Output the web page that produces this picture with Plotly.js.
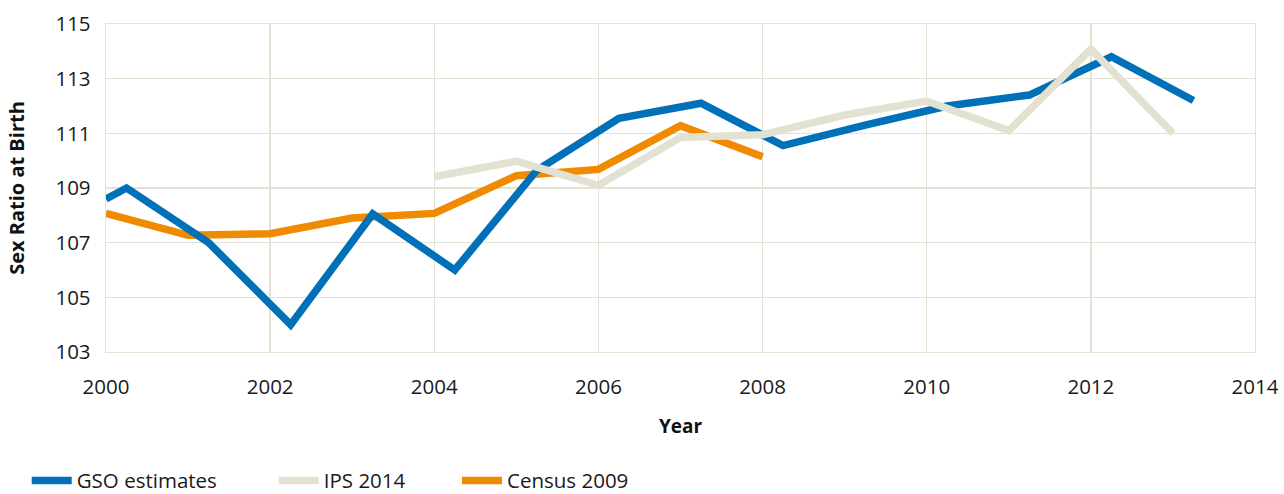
<!DOCTYPE html>
<html>
<head>
<meta charset="utf-8">
<script src="https://cdn.plot.ly/plotly-3.0.1.min.js"></script>
<style>
  html, body { margin: 0; padding: 0; background: #ffffff; }
  #chart { width: 1284px; height: 494px; }
</style>
</head>
<body>
<div id="chart"></div>
<script>
// GSO estimates (points plotted a quarter-year after the tick, as in the source)
const gsoYears = [2000, 2000.25, 2001.25, 2002.25, 2003.25, 2004.25, 2005.25, 2006.25, 2007.25, 2008.25, 2009.25, 2010.25, 2011.25, 2012.25, 2013.25];
const gsoValues = [108.6, 109.0, 107.0, 104.0, 108.05, 106.0, 109.65, 111.55, 112.1, 110.55, 111.3, 112.0, 112.4, 113.8, 112.2];

// IPS 2014
const ipsYears = [2004, 2005, 2006, 2007, 2008, 2009, 2010, 2011, 2012, 2013];
const ipsValues = [109.41, 109.98, 109.1, 110.85, 110.95, 111.67, 112.18, 111.1, 114.08, 111.0];

// Census 2009
const censusYears = [2000, 2001, 2002, 2003, 2004, 2005, 2006, 2007, 2008];
const censusValues = [108.07, 107.27, 107.33, 107.9, 108.07, 109.45, 109.68, 111.28, 110.14];

const seriesNames = ["GSO estimates", "IPS 2014", "Census 2009"];
const seriesColors = ["#0070b8", "#e3e2d2", "#f08a00"];

const xTickVals = [2000, 2002, 2004, 2006, 2008, 2010, 2012, 2014];
const yTickVals = [103, 105, 107, 109, 111, 113, 115];

const FONT = '"Open Sans", "Noto Sans", sans-serif';
const legendIds = ['legend', 'legend2', 'legend3'];
const legendX = [-0.069, 0.146, 0.3055];

const traces = [
  { x: gsoYears, y: gsoValues },
  { x: ipsYears, y: ipsValues },
  { x: censusYears, y: censusValues }
].map((t, i) => Object.assign(t, {
  type: 'scatter',
  mode: 'lines',
  name: seriesNames[i],
  legend: legendIds[i],
  line: { color: seriesColors[i], width: 7.5 },
  hoverinfo: 'skip'
}));

// draw order: Census underneath, then GSO, IPS on top
const ordered = [traces[2], traces[0], traces[1]];

function legendCfg(i) {
  return {
    orientation: 'h',
    x: legendX[i],
    xanchor: 'left',
    y: -0.392,
    yanchor: 'middle',
    bgcolor: 'rgba(0,0,0,0)',
    font: { family: FONT, size: 20.5, color: '#1a1a1a' },
    itemwidth: 40
  };
}

const layout = {
  width: 1284,
  height: 494,
  margin: { l: 106, r: 29, t: 24, b: 142, autoexpand: false },
  paper_bgcolor: '#ffffff',
  plot_bgcolor: '#ffffff',
  font: { family: FONT, size: 20, color: '#1a1a1a' },
  showlegend: true,
  legend: legendCfg(0),
  legend2: legendCfg(1),
  legend3: legendCfg(2),
  xaxis: {
    range: [2000, 2014],
    tickvals: xTickVals,
    ticktext: xTickVals.map(String),
    automargin: false,
    showgrid: true,
    gridcolor: '#e4e3d3',
    gridwidth: 1.3,
    zeroline: false,
    showline: true,
    linecolor: '#e4e3d3',
    linewidth: 1.3,
    mirror: true,
    ticks: 'outside',
    ticklen: 16,
    tickcolor: 'rgba(0,0,0,0)',
    tickfont: { family: FONT, size: 20.5, color: '#1a1a1a' },
    title: { text: '<b>Year</b>', font: { family: FONT, size: 19, color: '#111' }, standoff: 20 },
    fixedrange: true
  },
  yaxis: {
    range: [103, 115],
    tickvals: yTickVals,
    ticktext: yTickVals.map(String),
    automargin: false,
    showgrid: true,
    gridcolor: '#e4e3d3',
    gridwidth: 1.3,
    zeroline: false,
    showline: true,
    linecolor: '#e4e3d3',
    linewidth: 1.3,
    mirror: true,
    ticks: 'outside',
    ticklen: 10,
    tickcolor: 'rgba(0,0,0,0)',
    tickfont: { family: FONT, size: 20.5, color: '#1a1a1a' },
    title: { text: '<b>Sex Ratio at Birth</b>', font: { family: FONT, size: 20, color: '#111' }, standoff: 25 },
    fixedrange: true
  }
};

Plotly.newPlot('chart', ordered, layout, { displayModeBar: false, staticPlot: true });
</script>
</body>
</html>
